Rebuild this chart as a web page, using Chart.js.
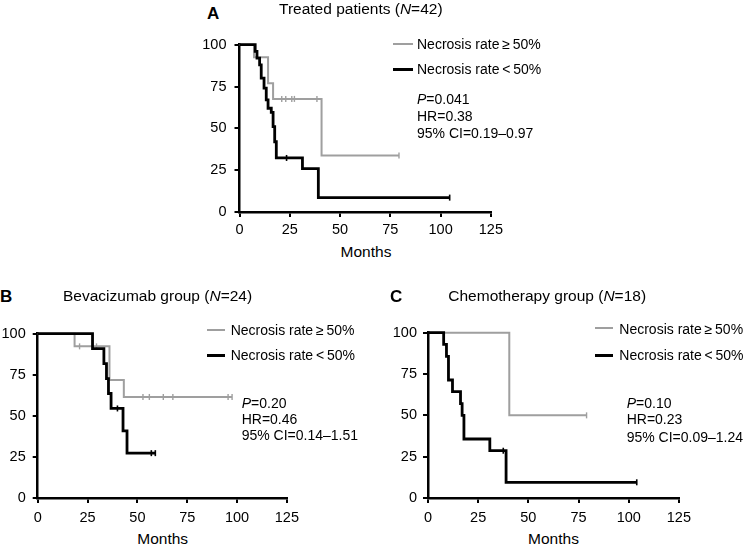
<!DOCTYPE html>
<html>
<head>
<meta charset="utf-8">
<script src="https://cdn.jsdelivr.net/npm/chart.js@4.4.1/dist/chart.umd.min.js"></script>
<style>
  html, body { margin: 0; padding: 0; background: #fff; }
  body { width: 747px; height: 548px; position: relative; overflow: hidden;
         font-family: "Liberation Sans", Arial, Helvetica, sans-serif; color: #000; }
  canvas { position: absolute; }
  .t { position: absolute; white-space: nowrap; line-height: 1; }
  .f14 { font-size: 14px; }
  .f15 { font-size: 15.5px; }
  .lbl { font-size: 17px; font-weight: bold; }
  .ln { position: absolute; height: 2px; }
  .g { background: #9f9f9f; }
  .k { background: #000; height: 3px; }
</style>
</head>
<body>
<canvas id="cA" width="312" height="212" style="left:195px;top:28px;"></canvas>
<canvas id="cB" width="305" height="210" style="left:0px;top:318px;"></canvas>
<canvas id="cC" width="312" height="210" style="left:385px;top:318px;"></canvas>

<!-- Panel A texts -->
<div class="t lbl" style="left:207px;top:4.6px;">A</div>
<div class="t f15" style="left:279px;top:0.9px;">Treated patients (<i>N</i>=42)</div>
<div class="ln g" style="left:393px;top:43px;width:20px;"></div>
<div class="t f14" style="left:417px;top:37.4px;">Necrosis rate&#8201;≥&#8201;50%</div>
<div class="ln k" style="left:393px;top:67.5px;width:20px;"></div>
<div class="t f14" style="left:417px;top:62.4px;">Necrosis rate&#8201;&lt;&#8201;50%</div>
<div class="t f14" style="left:417px;top:92.2px;"><i>P</i>=0.041</div>
<div class="t f14" style="left:417px;top:108.8px;">HR=0.38</div>
<div class="t f14" style="left:417px;top:125.5px;">95% CI=0.19–0.97</div>
<div class="t f15" style="left:366px;top:244.2px;transform:translateX(-50%);">Months</div>

<!-- Panel B texts -->
<div class="t lbl" style="left:0px;top:287.6px;">B</div>
<div class="t f15" style="left:63px;top:287.6px;">Bevacizumab group (<i>N</i>=24)</div>
<div class="ln g" style="left:207px;top:329px;width:18px;"></div>
<div class="t f14" style="left:230.7px;top:323.2px;">Necrosis rate&#8201;≥&#8201;50%</div>
<div class="ln k" style="left:207px;top:353.5px;width:18px;"></div>
<div class="t f14" style="left:230.7px;top:348.2px;">Necrosis rate&#8201;&lt;&#8201;50%</div>
<div class="t f14" style="left:241.7px;top:395.5px;"><i>P</i>=0.20</div>
<div class="t f14" style="left:241.7px;top:411.5px;">HR=0.46</div>
<div class="t f14" style="left:241.7px;top:428.2px;">95% CI=0.14–1.51</div>
<div class="t f15" style="left:162.7px;top:530.9px;transform:translateX(-50%);">Months</div>

<!-- Panel C texts -->
<div class="t lbl" style="left:390px;top:287.6px;">C</div>
<div class="t f15" style="left:448.3px;top:287.6px;">Chemotherapy group (<i>N</i>=18)</div>
<div class="ln g" style="left:595px;top:327.3px;width:18px;"></div>
<div class="t f14" style="left:619.3px;top:322.2px;">Necrosis rate&#8201;≥&#8201;50%</div>
<div class="ln k" style="left:595px;top:353.5px;width:18px;"></div>
<div class="t f14" style="left:619.3px;top:348.2px;">Necrosis rate&#8201;&lt;&#8201;50%</div>
<div class="t f14" style="left:626.7px;top:395.5px;"><i>P</i>=0.10</div>
<div class="t f14" style="left:626.7px;top:412.2px;">HR=0.23</div>
<div class="t f14" style="left:626.7px;top:429.9px;">95% CI=0.09–1.24</div>
<div class="t f15" style="left:553.5px;top:530.9px;transform:translateX(-50%);">Months</div>

<script>
// ---- Axis ticks ----
const monthTicks = [0, 25, 50, 75, 100, 125];
const survivalTicks = [0, 25, 50, 75, 100];

// ---- Panel A: Treated patients (N=42) ----
const aHighMonths = [0, 7.2, 14.2, 16.7, 40.8, 79.3];
const aHighSurv   = [100, 92.5, 76.9, 67.6, 33.8, 33.8];
const aHighCensorMonths = [21, 23, 26, 27.3, 38.5, 79.3];
const aHighCensorSurv   = [67.6, 67.6, 67.6, 67.6, 67.6, 33.8];
const aLowMonths = [0, 7.8, 8.7, 10, 10.8, 12.2, 13.3, 14.2, 15.8, 16.7, 17.5, 18.3, 31.3, 39.2, 104.5];
const aLowSurv   = [100, 96, 92, 88, 80, 74, 67, 62, 59.6, 51, 42, 32.3, 25.9, 8.6, 8.6];
const aLowCensorMonths = [23.4, 104.5];
const aLowCensorSurv   = [32.3, 8.6];

// ---- Panel B: Bevacizumab group (N=24) ----
const bHighMonths = [0, 18.5, 36, 43.2, 97.5];
const bHighSurv   = [100, 92.3, 71.8, 61.5, 61.5];
const bHighCensorMonths = [21, 29.5, 52.8, 56, 63, 67.8, 95.5, 97.5];
const bHighCensorSurv   = [92.3, 92.3, 61.5, 61.5, 61.5, 61.5, 61.5, 61.5];
const bLowMonths = [0, 27.5, 33.2, 34.5, 35.5, 36.8, 42.8, 44.8, 59];
const bLowSurv   = [100, 90.9, 81.8, 72.7, 63.6, 54.5, 40.9, 27.3, 27.3];
const bLowCensorMonths = [40, 57, 59];
const bLowCensorSurv   = [54.5, 27.3, 27.3];

// ---- Panel C: Chemotherapy group (N=18) ----
const cHighMonths = [0, 40.5, 79];
const cHighSurv   = [100, 50, 50];
const cHighCensorMonths = [79];
const cHighCensorSurv   = [50];
const cLowMonths = [0, 7.8, 9.2, 10.2, 12.2, 16.2, 17, 17.9, 30.8, 38.9, 104];
const cLowSurv   = [100, 92.9, 85.7, 71.4, 64.3, 57.1, 50, 35.7, 28.6, 9.5, 9.5];
const cLowCensorMonths = [37.5, 104];
const cLowCensorSurv   = [28.6, 9.5];

const GRAY = '#9f9f9f';
const BLACK = '#000000';
const FONT = { family: '"Liberation Sans", Arial, Helvetica, sans-serif', size: 14.5 };

function pts(xs, ys) { return xs.map((x, i) => ({ x: x, y: ys[i] })); }

function kmChart(id, d, lay) {
  const ctx = document.getElementById(id);
  return new Chart(ctx, {
    type: 'line',
    data: {
      datasets: [
        { label: 'Necrosis rate < 50%', data: pts(d.lowM, d.lowS), stepped: true,
          borderColor: BLACK, borderWidth: 2.8, pointRadius: 0, fill: false, clip: false },
        { type: 'scatter', label: 'censor<', data: pts(d.lowCM, d.lowCS), showLine: false,
          pointStyle: 'line', rotation: 90, pointRadius: 3, borderColor: BLACK, borderWidth: 1.6,
          backgroundColor: BLACK, clip: false },
        { label: 'Necrosis rate ≥ 50%', data: pts(d.highM, d.highS), stepped: true,
          borderColor: GRAY, borderWidth: 2, pointRadius: 0, fill: false, clip: false },
        { type: 'scatter', label: 'censor≥', data: pts(d.highCM, d.highCS), showLine: false,
          pointStyle: 'line', rotation: 90, pointRadius: 3, borderColor: GRAY, borderWidth: 1.4,
          backgroundColor: GRAY, clip: false }
      ]
    },
    options: {
      responsive: false,
      animation: false,
      devicePixelRatio: 1,
      events: [],
      layout: { padding: { left: 0, right: lay.right, top: lay.top, bottom: 0 } },
      plugins: { legend: { display: false }, tooltip: { enabled: false }, title: { display: false } },
      scales: {
        x: {
          type: 'linear', min: 0, max: 125,
          afterBuildTicks: s => { s.ticks = monthTicks.map(v => ({ value: v })); },
          afterFit: s => { s.height = lay.xh; },
          ticks: { color: '#000', font: FONT, padding: lay.xpad, maxRotation: 0, autoSkip: false },
          grid: { display: true, drawOnChartArea: false, drawTicks: true, tickLength: 5, color: '#000', lineWidth: 2 },
          border: { display: true, color: '#000', width: 2.5 }
        },
        y: {
          type: 'linear', min: 0, max: 100,
          afterBuildTicks: s => { s.ticks = survivalTicks.map(v => ({ value: v })); },
          afterFit: s => { s.width = lay.yw; },
          ticks: { color: '#000', font: FONT, padding: lay.ypad, autoSkip: false },
          grid: { display: true, drawOnChartArea: false, drawTicks: true, tickLength: 5, color: '#000', lineWidth: 2 },
          border: { display: true, color: '#000', width: 2.5 }
        }
      }
    }
  });
}

kmChart('cA', {
  highM: aHighMonths, highS: aHighSurv, highCM: aHighCensorMonths, highCS: aHighCensorSurv,
  lowM: aLowMonths, lowS: aLowSurv, lowCM: aLowCensorMonths, lowCS: aLowCensorSurv
}, { right: 15.3, top: 15.7, xh: 28, yw: 44.5, xpad: 4, ypad: 8 });

kmChart('cB', {
  highM: bHighMonths, highS: bHighSurv, highCM: bHighCensorMonths, highCS: bHighCensorSurv,
  lowM: bLowMonths, lowS: bLowSurv, lowCM: bLowCensorMonths, lowCS: bLowCensorSurv
}, { right: 17.3, top: 12.7, xh: 30, yw: 37.7, xpad: 6, ypad: 7 });

kmChart('cC', {
  highM: cHighMonths, highS: cHighSurv, highCM: cHighCensorMonths, highCS: cHighCensorSurv,
  lowM: cLowMonths, lowS: cLowSurv, lowCM: cLowCensorMonths, lowCS: cLowCensorSurv
}, { right: 18, top: 12, xh: 30, yw: 43, xpad: 6, ypad: 6 });
</script>
</body>
</html>
